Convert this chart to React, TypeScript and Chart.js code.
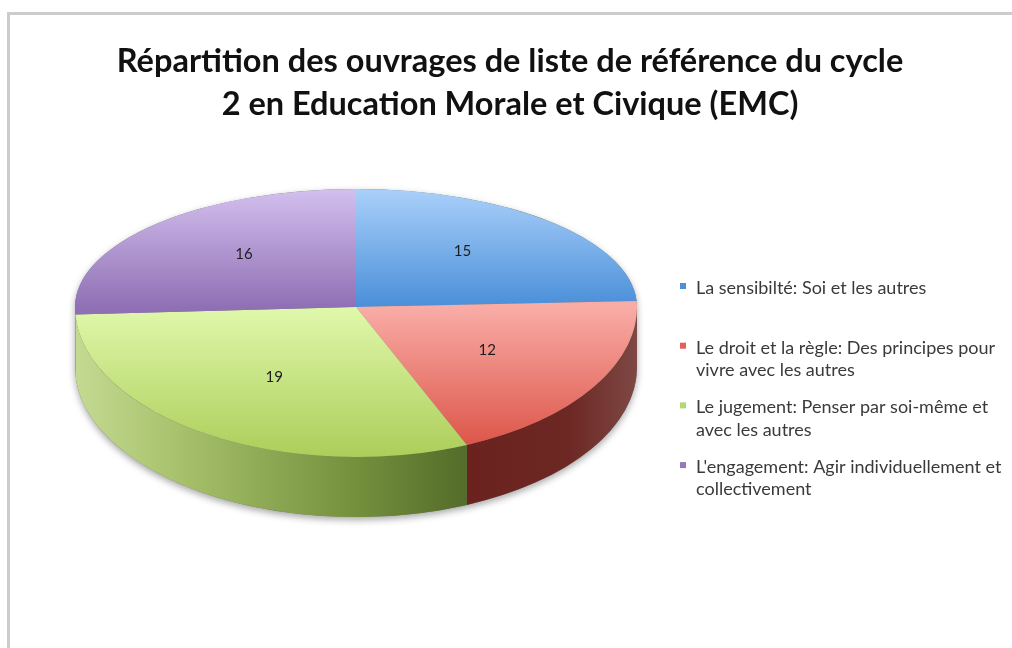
import React, { useEffect, useRef } from 'react';
import { Chart, registerables } from 'chart.js';

Chart.register(...registerables);

// ---- data ----
const TITLE_LINES = [
  'Répartition des ouvrages de liste de référence du cycle',
  '2 en Education Morale et Civique (EMC)',
];
const CATEGORIES = [
  'La sensibilté: Soi et les autres',
  'Le droit et la règle: Des principes pour vivre avec les autres',
  'Le jugement: Penser par soi-même et avec les autres',
  "L'engagement: Agir individuellement et collectivement",
];
const LEGEND_LINES = [
  ['La sensibilté: Soi et les autres'],
  ['Le droit et la règle: Des principes pour', 'vivre avec les autres'],
  ['Le jugement: Penser par soi-même et', 'avec les autres'],
  ["L'engagement: Agir individuellement et", 'collectivement'],
];
const VALUES = [15, 12, 19, 16];

// ---- styles ----
const TOP_COLORS: [number, string][][] = [
  [[0, '#aad0fa'], [0.5, '#4a8fd9']],
  [[0.5, '#f9aca6'], [0.97, '#dc5448']],
  [[0.5, '#e0f8ab'], [1, '#acce5a']],
  [[0, '#d3c0ee'], [0.5, '#9070b5']],
];
const SIDE_COLORS: [number, string][][] = [
  [[0, '#3c6ea6'], [1, '#2c5a90']],
  [[0.6, '#6a1f1b'], [0.88, '#6d2824'], [1, '#7e4844']],
  [[0, '#c4da92'], [0.2, '#a5bf69'], [0.5, '#74903d'], [0.73, '#4e6626']],
  [[0, '#9a82b8'], [1, '#6e5590']],
];
const LEGEND_COLORS = ['#4d8fd8', '#e2605a', '#b3d873', '#9678bd'];

const BACK_RATIO = 0.42;
const FRONT_RATIO = 0.534;
const DEPTH_RATIO = 0.2135;
const LABEL_RADIUS = 0.55;
const LABEL_RADIUS_Y_BACK = 0.65;

const topFill = (c: any) => {
  const chart = c.chart;
  const a = chart.chartArea;
  const stops = TOP_COLORS[c.dataIndex % TOP_COLORS.length];
  if (!a) return stops[stops.length - 1][1];
  const cy = (a.top + a.bottom) / 2;
  const r = Math.min(a.width, a.height) / 2;
  const g = chart.ctx.createLinearGradient(0, cy - r, 0, cy + r);
  stops.forEach(([p, col]) => g.addColorStop(p, col));
  return g;
};

const pie3d = {
  id: 'pie3d',
  beforeDatasetsDraw(chart: any) {
    const ctx: CanvasRenderingContext2D = chart.ctx;
    const arcs = chart.getDatasetMeta(0).data as any[];
    if (!arcs.length) return false;
    const cx = arcs[0].x;
    const cy = arcs[0].y;
    const r = arcs[0].outerRadius;
    const ryB = r * BACK_RATIO;
    const ryF = r * FRONT_RATIO;
    const depth = r * DEPTH_RATIO;

    // soft shadow of the whole body
    ctx.save();
    ctx.beginPath();
    ctx.ellipse(cx, cy + depth, r, ryF, 0, 0, Math.PI);
    ctx.lineTo(cx - r, cy);
    ctx.ellipse(cx, cy, r, ryB, 0, Math.PI, 2 * Math.PI);
    ctx.closePath();
    ctx.shadowColor = 'rgba(0,0,0,0.35)';
    ctx.shadowBlur = 7;
    ctx.shadowOffsetY = 3;
    ctx.fillStyle = '#777';
    ctx.fill();
    ctx.restore();

    // side walls (front half only)
    arcs.forEach((arc, i) => {
      const a = Math.max(arc.startAngle, 0);
      const b = Math.min(arc.endAngle, Math.PI);
      if (b <= a) return;
      const g = ctx.createLinearGradient(cx - r, 0, cx + r, 0);
      SIDE_COLORS[i].forEach(([p, col]) => g.addColorStop(p, col));
      ctx.beginPath();
      ctx.ellipse(cx, cy, r, ryF, 0, a, b);
      ctx.ellipse(cx, cy + depth, r, ryF, 0, b, a, true);
      ctx.closePath();
      ctx.fillStyle = g;
      ctx.fill();
    });

    // top face, drawn by the arc elements in two perspective halves
    const drawHalf = (upper: boolean) => {
      ctx.save();
      ctx.beginPath();
      if (upper) ctx.rect(0, 0, chart.width, cy + 0.6);
      else ctx.rect(0, cy - 0.6, chart.width, chart.height);
      ctx.clip();
      ctx.translate(0, cy);
      ctx.scale(1, upper ? BACK_RATIO : FRONT_RATIO);
      ctx.translate(0, -cy);
      arcs.forEach((arc) => arc.draw(ctx, chart.chartArea));
      ctx.restore();
    };
    drawHalf(true);
    drawHalf(false);
    return false;
  },
};

const overlay = {
  id: 'overlay',
  afterDraw(chart: any) {
    const ctx: CanvasRenderingContext2D = chart.ctx;
    const arcs = chart.getDatasetMeta(0).data as any[];
    const values = chart.data.datasets[0].data as number[];
    ctx.save();

    // data labels
    ctx.font = '15px Lato';
    ctx.fillStyle = '#1e1e1e';
    ctx.textAlign = 'center';
    ctx.textBaseline = 'middle';
    arcs.forEach((arc, i) => {
      const mid = (arc.startAngle + arc.endAngle) / 2;
      const back = Math.sin(mid) < 0;
      const k = back ? BACK_RATIO * LABEL_RADIUS_Y_BACK : FRONT_RATIO * LABEL_RADIUS;
      const x = arc.x + Math.cos(mid) * arc.outerRadius * LABEL_RADIUS;
      const y = arc.y + Math.sin(mid) * arc.outerRadius * k;
      ctx.fillText(String(values[i]), x, y);
    });

    // title
    ctx.font = 'bold 32.5px Lato';
    ctx.fillStyle = '#111111';
    TITLE_LINES.forEach((t, i) => ctx.fillText(t, 510, 62 + i * 43));

    // legend
    ctx.textAlign = 'left';
    ctx.font = '18px Lato';
    LEGEND_LINES.forEach((lines, i) => {
      const y0 = 288 + i * 59.7;
      ctx.fillStyle = LEGEND_COLORS[i];
      ctx.fillRect(680, y0 - 5, 6, 6);
      ctx.fillStyle = '#3a3a3a';
      lines.forEach((l, j) => ctx.fillText(l, 696, y0 + j * 22.5));
    });
    ctx.restore();
  },
};

export default function App() {
  const ref = useRef<HTMLCanvasElement | null>(null);
  useEffect(() => {
    document.body.style.margin = '0';
    const chart = new Chart(ref.current as HTMLCanvasElement, {
      type: 'pie',
      data: {
        labels: CATEGORIES,
        datasets: [
          {
            data: VALUES,
            backgroundColor: topFill as any,
            borderWidth: 0,
            hoverOffset: 0,
            offset: 0,
          },
        ],
      },
      options: {
        responsive: false,
        animation: false,
        events: [],
        layout: { padding: { left: 75, right: 375, top: 26, bottom: 60 } },
        plugins: {
          legend: { display: false },
          tooltip: { enabled: false },
          title: { display: false },
        },
      },
      plugins: [pie3d, overlay],
    });
    return () => chart.destroy();
  }, []);
  return (
    <div style={{ position: 'relative', width: 1012, height: 648, overflow: 'hidden', background: '#fff' }}>
      <div
        style={{
          position: 'absolute',
          left: 7,
          top: 12,
          width: 1100,
          height: 700,
          borderLeft: '3px solid #cccccc',
          borderTop: '3px solid #cccccc',
        }}
      />
      <canvas ref={ref} width={1012} height={648} style={{ position: 'absolute', left: 0, top: 0, display: 'block' }} />
    </div>
  );
}
